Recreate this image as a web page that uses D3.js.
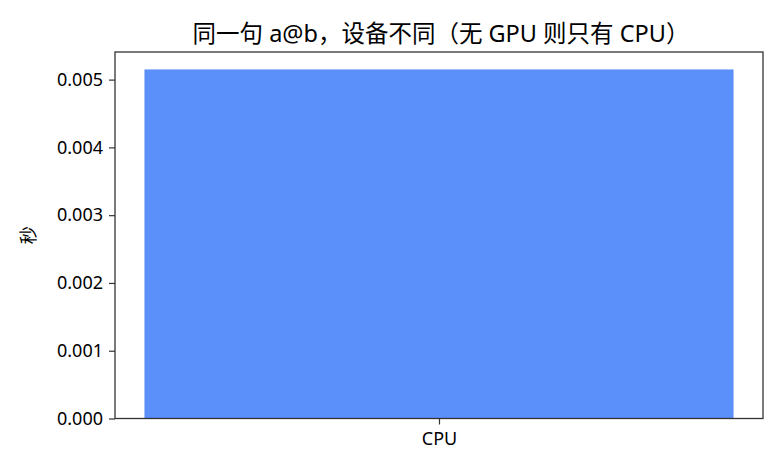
<!DOCTYPE html>
<html><head><meta charset="utf-8">
<script src="https://cdn.jsdelivr.net/npm/d3@7"></script>
<style>body{margin:0;background:#fff}svg{display:block}text{font-family:"Noto Sans","Noto Sans CJK SC",sans-serif}</style>
</head><body>
<svg id="c" width="784" height="476"></svg>
<script>
const categories = ["CPU"];
const seconds = [0.00515];
const yTicks = [0, 0.001, 0.002, 0.003, 0.004, 0.005];
const title = "同一句 a@b，设备不同（无 GPU 则只有 CPU）";
const yLabel = "秒";

const FONT = '"Noto Sans","Noto Sans CJK SC",sans-serif';
const svg = d3.select("#c");
const L = 115, R = 763, T = 52, B = 418.5;
const xl = d3.scaleLinear().domain([-0.44, 0.44]).range([L, R]);
const ymax = d3.max(seconds) * 1.05;
const y = d3.scaleLinear().domain([0, ymax]).range([B, T]);

svg.selectAll("rect.bar").data(seconds).join("rect").attr("class","bar")
  .attr("x", (d,i) => xl(i - 0.4)).attr("width", (d,i) => xl(i + 0.4) - xl(i - 0.4))
  .attr("y", d => y(d)).attr("height", d => y(0) - y(d)).attr("fill", "#5B8FF9");

const yAxis = d3.axisLeft(y).tickValues(yTicks).tickFormat(d3.format(".3f")).tickSize(6).tickPadding(6);
const gy = svg.append("g").attr("transform", `translate(${L},0)`).call(yAxis);
gy.select(".domain").remove();
gy.selectAll("line").attr("stroke", "#333").attr("stroke-width", 1.2);
gy.selectAll("text").attr("font-size", 18).attr("fill", "#000").attr("font-family", FONT);

const xAxis = d3.axisBottom(xl).tickValues(categories.map((c,i)=>i)).tickFormat(i => categories[i]).tickSize(6).tickPadding(8);
const gx = svg.append("g").attr("transform", `translate(0,${B})`).call(xAxis);
gx.select(".domain").remove();
gx.selectAll("line").attr("stroke", "#333").attr("stroke-width", 1.2);
gx.selectAll("text").attr("font-size", 18).attr("fill", "#000").attr("font-family", FONT);

svg.append("rect").attr("x", L).attr("y", T).attr("width", R - L).attr("height", B - T)
  .attr("fill", "none").attr("stroke", "#333").attr("stroke-width", 1.3);

svg.append("text").attr("x", (L + R) / 2 + 2).attr("y", 42).attr("text-anchor", "middle")
  .attr("font-size", 23.5).attr("fill", "#000").attr("font-family", FONT).text(title);

svg.append("text").attr("transform", `translate(35,${(T + B) / 2}) rotate(-90)`).attr("text-anchor", "middle")
  .attr("font-size", 18).attr("fill", "#000").attr("font-family", FONT).text(yLabel);
</script>
</body></html>
